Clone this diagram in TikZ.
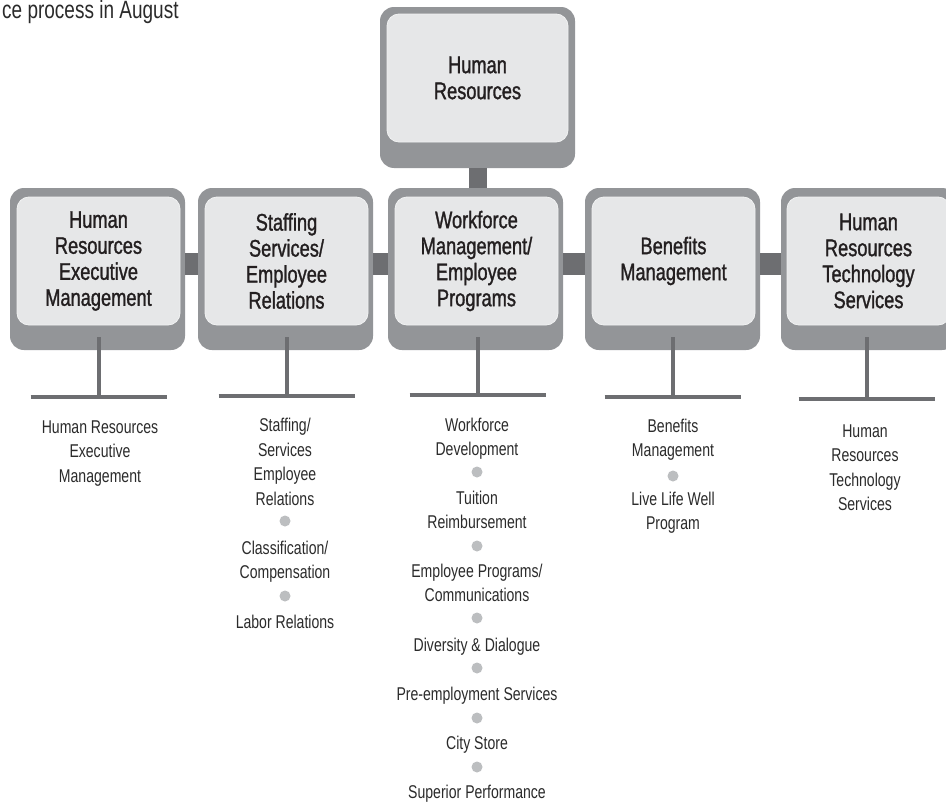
\documentclass[tikz,border=0pt]{standalone}
\usepackage{fontspec}
\setmainfont[FakeStretch=0.76]{Liberation Sans}
\newfontfamily\headfont[FakeStretch=0.76,FakeBold=1.2]{Liberation Sans}
\definecolor{frame}{HTML}{939598}
\definecolor{panel}{HTML}{E6E7E8}
\definecolor{paneledge}{HTML}{F1F2F2}
\definecolor{linkc}{HTML}{6D6E71}
\definecolor{dotc}{HTML}{BCBEC0}
\definecolor{ink}{HTML}{231F20}
\definecolor{ink2}{HTML}{2B2B2B}
\begin{document}
\begin{tikzpicture}[x=1pt,y=-1pt,
  outerbox/.style={rounded corners=14pt, fill=frame, minimum width=175pt, minimum height=162pt, inner sep=0pt},
  innerbox/.style={rounded corners=12pt, fill=panel, draw=paneledge, line width=0.8pt, minimum width=163pt, minimum height=128pt, inner sep=0pt, align=center, text=ink, font=\headfont\fontsize{24}{26}\selectfont},
  hconn/.style={draw=linkc, line width=22pt},
  vconn/.style={draw=linkc, line width=18pt},
  stemline/.style={draw=linkc, line width=4pt},
  barline/.style={draw=linkc, line width=4pt},
  item/.style={anchor=base, align=center, inner sep=0pt, text=ink2, font=\fontsize{18.5}{24.5}\selectfont},
  dotmark/.style={circle, fill=dotc, minimum size=11pt, inner sep=0pt},
  note/.style={anchor=base west, inner sep=0pt, text=ink2, font=\fontsize{25}{28}\selectfont}
]
\useasboundingbox (0,0) rectangle (946,803);
\clip (0,0) rectangle (946,803);
\fill[white] (0,0) rectangle (946,803);

\node[note] (topnote) at (2,19) {ce process in August};

% top box
\node[outerbox, minimum width=195pt, minimum height=161pt] (ot) at (477.5,87.5) {};
\node[innerbox, minimum width=181pt] (it) at (477.5,78) {Human\\Resources};

% row boxes
\node[outerbox] (o1) at (97.5,269) {};
\node[outerbox] (o2) at (285.5,269) {};
\node[outerbox] (o3) at (475.5,269) {};
\node[outerbox] (o4) at (672.5,269) {};
\node[outerbox] (o5) at (868.5,269) {};

% connectors
\draw[vconn] (ot.south) -- (ot.south |- o3.north);
\draw[hconn] ([yshift=5pt]o1.east) -- ([yshift=5pt]o2.west);
\draw[hconn] ([yshift=5pt]o2.east) -- ([yshift=5pt]o3.west);
\draw[hconn] ([yshift=5pt]o3.east) -- ([yshift=5pt]o4.west);
\draw[hconn] ([yshift=5pt]o4.east) -- ([yshift=5pt]o5.west);

\node[innerbox] (i1) at (98.5,261) {Human\\Resources\\Executive\\Management};
\node[innerbox] (i2) at (286.5,261) {Staffing\\Services/\\Employee\\Relations};
\node[innerbox] (i3) at (476.5,261) {Workforce\\Management/\\Employee\\Programs};
\node[innerbox] (i4) at (673.5,261) {Benefits\\Management};
\node[innerbox] (i5) at (868.5,261) {Human\\Resources\\Technology\\Services};

% stems and bars
\coordinate (k1) at (98.5,397);
\coordinate (k2) at (286.5,396);
\coordinate (k3) at (477.5,395);
\coordinate (k4) at (672.5,397);
\coordinate (k5) at (866.5,399);
\foreach \i in {1,...,5}{
  \draw[stemline] ([yshift=-12pt]i\i.south -| k\i) -- (k\i);
  \draw[barline] ([xshift=-68pt]k\i) -- ([xshift=68pt]k\i);
}

% lists (node base = baseline of last line)
\node[item] (l1a) at (100,482) {Human Resources\\Executive\\Management};

\node[item] (l2a) at (285,505) {Staffing/\\Services\\Employee\\Relations};
\node[dotmark] (d2a) at (285,521) {};
\node[item] (l2b) at (285,578.5) {Classification/\\Compensation};
\node[dotmark] (d2b) at (285,596) {};
\node[item] (l2c) at (285,628) {Labor Relations};

\node[item] (l3a) at (477,455.5) {Workforce\\Development};
\node[dotmark] (d3a) at (477,472) {};
\node[item] (l3b) at (477,528.5) {Tuition\\Reimbursement};
\node[dotmark] (d3b) at (477,546) {};
\node[item] (l3c) at (477,601.5) {Employee Programs/\\Communications};
\node[dotmark] (d3c) at (477,618) {};
\node[item] (l3d) at (477,651) {Diversity \& Dialogue};
\node[dotmark] (d3d) at (477,668) {};
\node[item] (l3e) at (477,700) {Pre-employment Services};
\node[dotmark] (d3e) at (477,718) {};
\node[item] (l3f) at (477,749) {City Store};
\node[dotmark] (d3f) at (477,767) {};
\node[item] (l3g) at (477,798) {Superior Performance};

\node[item] (l4a) at (673,456.5) {Benefits\\Management};
\node[dotmark] (d4a) at (673,476) {};
\node[item] (l4b) at (673,529.5) {Live Life Well\\Program};

\node[item] (l5a) at (865,510.5) {Human\\Resources\\Technology\\Services};
\end{tikzpicture}
\end{document}
